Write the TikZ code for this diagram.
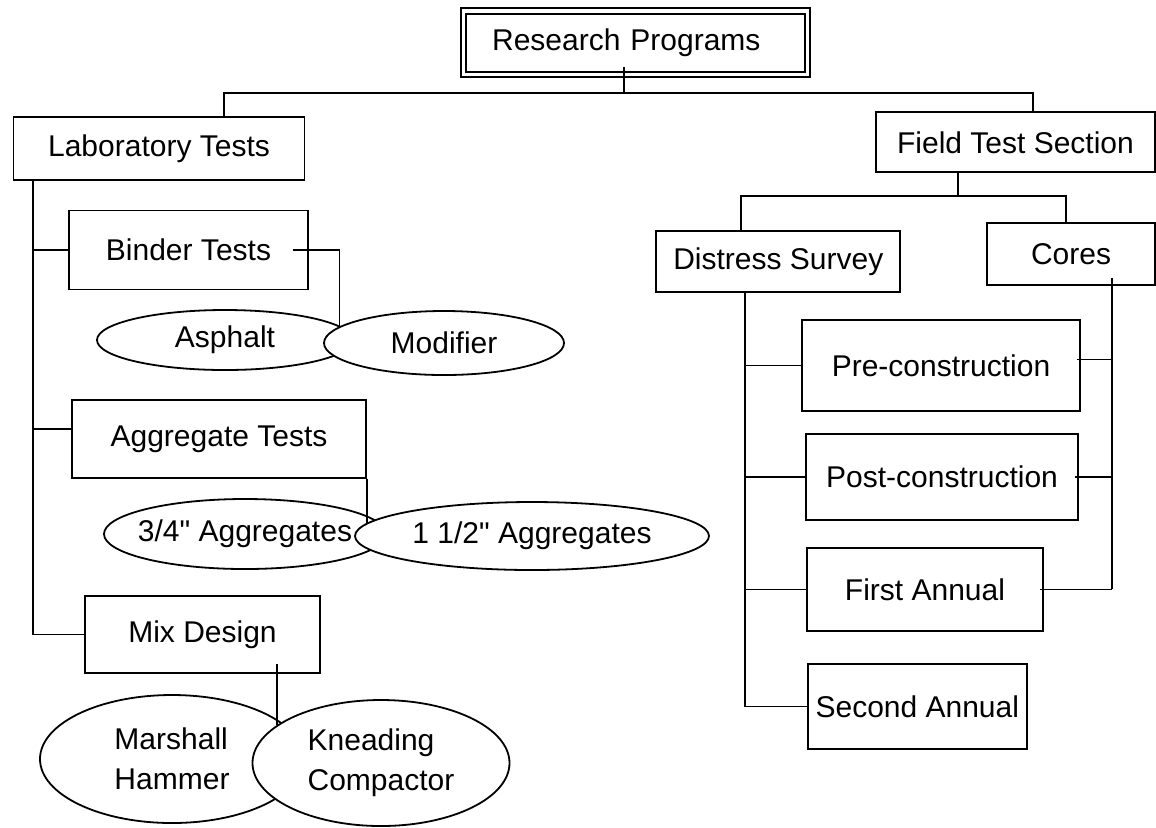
\documentclass[tikz,border=0pt]{standalone}
\usepackage{fontspec}
\setmainfont{Liberation Sans}[Ligatures=TeXOff]
\usetikzlibrary{shapes.geometric}
\tikzset{
  testbox/.style={draw, inner sep=0pt, font=\fontsize{15}{20}\selectfont},
  testoval/.style={ellipse, draw, fill=white, inner sep=0pt, align=left, font=\fontsize{15}{20}\selectfont}
}
\begin{document}
\begin{tikzpicture}[x=0.5pt,y=-0.5pt,line width=0.9pt]
    \useasboundingbox (0,0) rectangle (1156,827);
    \node [testbox, double, double distance=1.8pt, minimum width=172pt, minimum height=31.7pt, text width=143.3pt, inner xsep=14.35pt, align=left] (research) at (635.4,42.6) {Research Programs};
    \node [testbox, minimum width=145.5pt, minimum height=31.7pt] (lab) at (159,148.3) {Laboratory Tests};
    \node [testbox, minimum width=139.5pt, minimum height=30pt] (field) at (1015.5,142.3) {Field Test Section};
    \node [testbox, minimum width=122pt, minimum height=30.5pt] (distress) at (778.3,261.5) {Distress Survey};
    \node [testbox, minimum width=84pt, minimum height=31pt] (cores) at (1071,254) {Cores};
    \node [testbox, minimum width=119.5pt, minimum height=39.5pt] (binder) at (188.5,250) {Binder Tests};
    \node [testbox, minimum width=147pt, minimum height=39pt] (aggregate) at (219,439) {Aggregate Tests};
    \node [testbox, minimum width=117.5pt, minimum height=38.5pt] (mix) at (202.5,634.5) {Mix Design};
    \node [testbox, minimum width=139pt, minimum height=45.4pt] (pre) at (941,365.4) {Pre-construction};
    \node [testbox, minimum width=136pt, minimum height=43pt] (post) at (942,477) {Post-construction};
    \node [testbox, minimum width=118pt, minimum height=41.4pt] (first) at (925,589.4) {First Annual};
    \node [testbox, minimum width=109.3pt, minimum height=42.5pt] (second) at (917.3,706.5) {Second Annual};
    \node [testoval, minimum width=128pt, minimum height=30pt] (asphalt) at (225,340) {Asphalt};
    \node [testoval, minimum width=120pt, minimum height=32pt] (modifier) at (444,343) {Modifier};
    \node [testoval, minimum width=141pt, minimum height=35pt, inner xsep=-6pt] (aggsmall) at (245,534) {3/4" Aggregates};
    \node [testoval, minimum width=177pt, minimum height=34pt] (agglarge) at (532,536) {1 1/2" Aggregates};
    \node [testoval, minimum width=132pt, minimum height=64pt] (marshall) at (172,759) {Marshall\\Hammer};
    \node [testoval, minimum width=128.5pt, minimum height=63pt] (kneading) at (381,763) {Kneading\\Compactor};
    \draw ([xshift=32.5pt]lab.north) -- ++(0,-22.7) coordinate (tbus) -| ([xshift=8.75pt]field.north);
    \draw ([xshift=-5.7pt,yshift=4pt]research.south) -- ([xshift=-5.7pt]research.south |- tbus);
    \draw ([xshift=-18.5pt]distress.north) -- ++(0,-34) coordinate (fbus) -| ([xshift=-2.5pt]cores.north);
    \draw ([xshift=-28.75pt]field.south) -- ([xshift=-28.75pt]field.south |- fbus);
    \draw ([xshift=-63pt]lab.south) coordinate (ltop) -- (ltop |- mix.west);
    \draw (ltop |- binder.west) -- (binder.west);
    \draw ([yshift=5pt]ltop |- aggregate.west) -- ([yshift=5pt]aggregate.west);
    \draw (ltop |- mix.west) -- (mix.west);
    \draw ([xshift=-8pt]binder.east) -| (modifier.171);
    \draw (aggregate.south east) -- (aggregate.south east |- agglarge.176);
    \draw ([yshift=5pt]kneading.160 |- mix.south) -- (kneading.160);
    \draw ([xshift=-16.65pt]distress.south) coordinate (dtop) -- (dtop |- second.west);
    \foreach \n in {pre,post,first,second}
      \draw (dtop |- \n.west) -- (\n.west);
    \draw ([xshift=20.5pt,yshift=4pt]cores.south) coordinate (ctop) -- (ctop |- first.east);
    \foreach \n/\s in {pre/3pt,post/0pt,first/0pt}
      \draw ([xshift=-2pt,yshift=\s]\n.east) -- ([yshift=\s]ctop |- \n.east);
\end{tikzpicture}
\end{document}
